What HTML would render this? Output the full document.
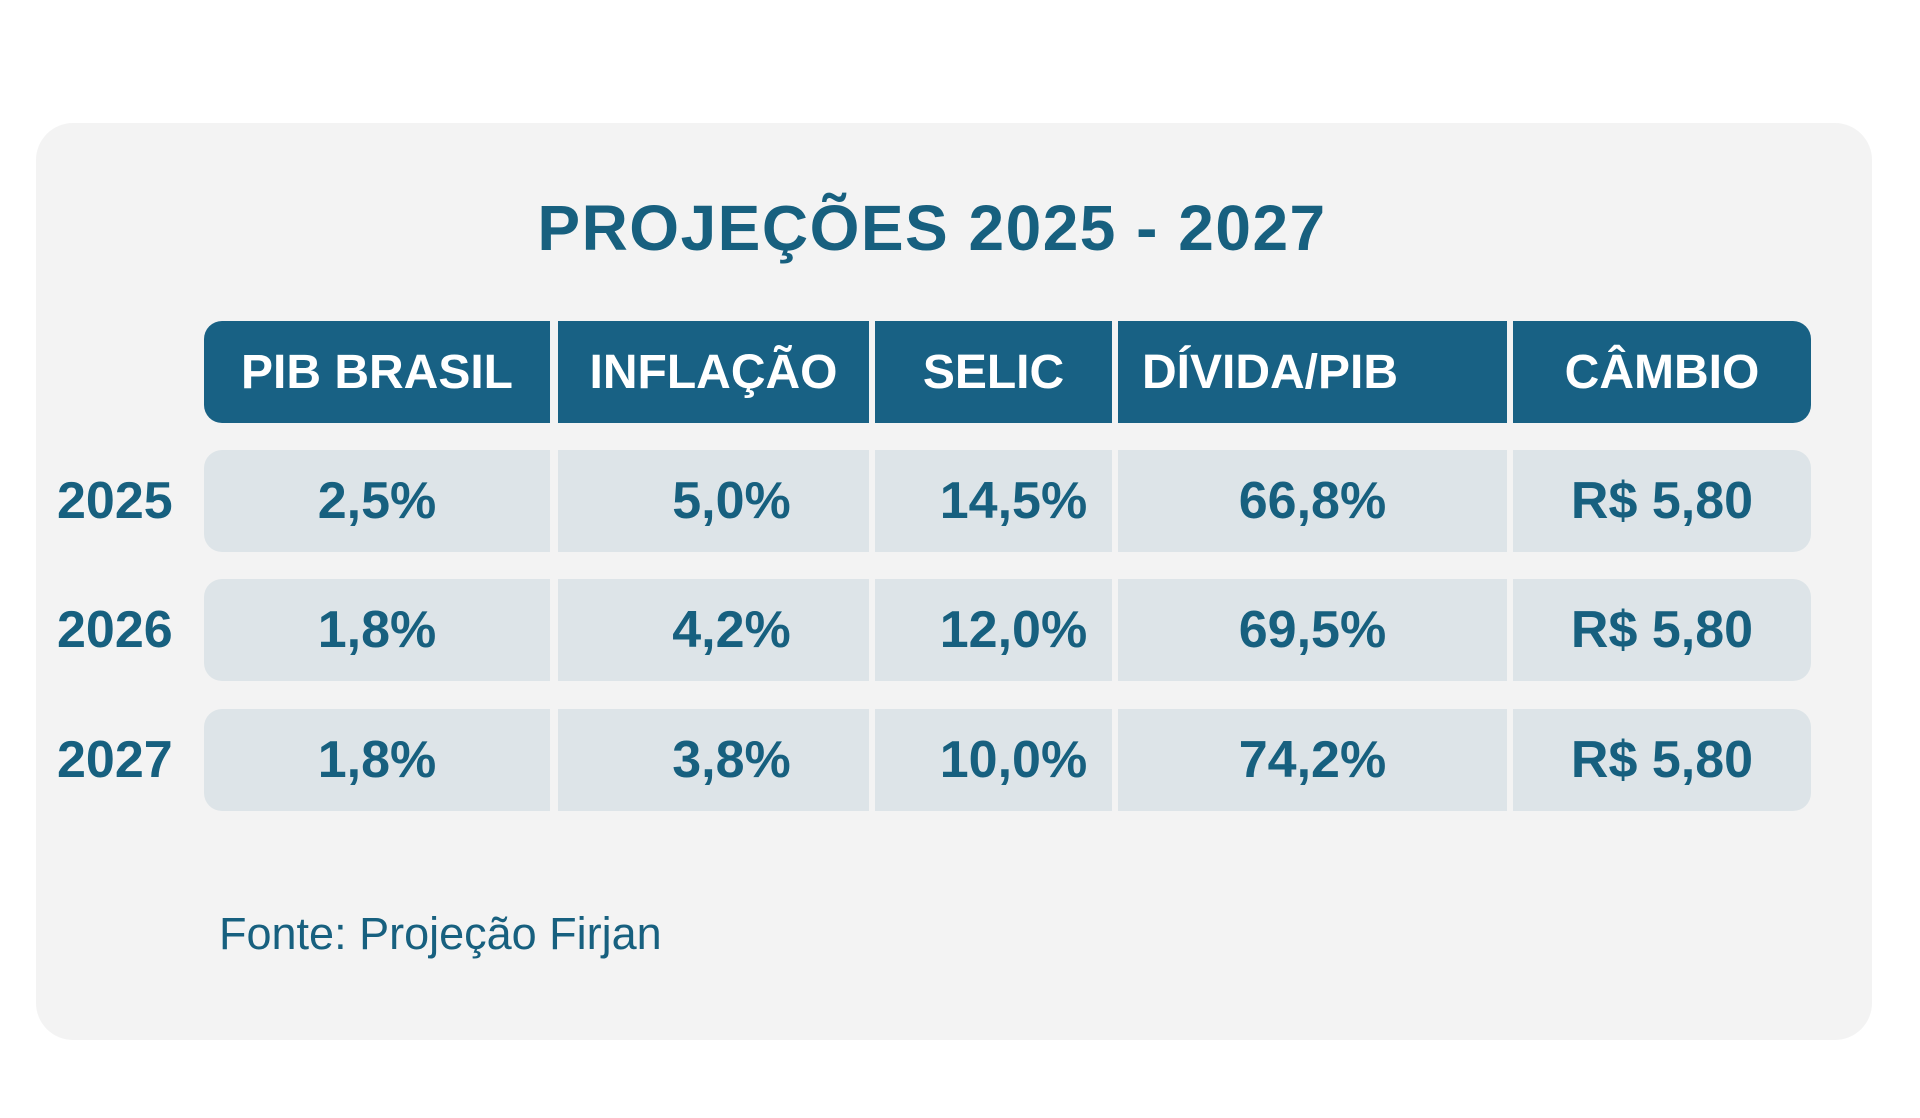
<!DOCTYPE html>
<html><head><meta charset="utf-8"><style>
body{margin:0;width:1920px;height:1118px;background:#fff;font-family:"Liberation Sans",sans-serif;color:#17607f;position:relative;overflow:hidden}
.panel{position:absolute;left:36px;top:123px;width:1836px;height:917px;background:#f3f3f3;border-radius:37px}
.t{position:absolute;white-space:nowrap}
.title{left:0;width:1864px;text-align:center;top:188px;font-size:64px;letter-spacing:1.5px;font-weight:bold;line-height:80px}
.c{position:absolute;display:flex;align-items:center;justify-content:center;font-weight:bold;box-sizing:border-box}
.h{background:#186184;color:#fff;font-size:48px;top:321px;height:102px}
.v{background:#dde4e8;font-size:52px;height:102px}
.y{position:absolute;left:57px;font-size:52px;font-weight:bold;line-height:102px}
</style></head><body>
<div class="panel"></div>
<div class="t title">PROJEÇÕES 2025 - 2027</div>

<div class="c h" style="left:204px;width:346px;border-radius:18px 0 0 18px">PIB BRASIL</div>
<div class="c h" style="left:558px;width:311px">INFLAÇÃO</div>
<div class="c h" style="left:875px;width:237px">SELIC</div>
<div class="c h" style="left:1118px;width:389px;justify-content:flex-start;padding-left:24px">DÍVIDA/PIB</div>
<div class="c h" style="left:1513px;width:298px;border-radius:0 18px 18px 0">CÂMBIO</div>

<div class="y" style="top:450px">2025</div>
<div class="c v" style="top:450px;left:204px;width:346px;border-radius:18px 0 0 18px">2,5%</div>
<div class="c v" style="top:450px;left:558px;width:311px;padding-left:36px">5,0%</div>
<div class="c v" style="top:450px;left:875px;width:237px;padding-left:40px">14,5%</div>
<div class="c v" style="top:450px;left:1118px;width:389px">66,8%</div>
<div class="c v" style="top:450px;left:1513px;width:298px;border-radius:0 18px 18px 0">R$ 5,80</div>

<div class="y" style="top:579px">2026</div>
<div class="c v" style="top:579px;left:204px;width:346px;border-radius:18px 0 0 18px">1,8%</div>
<div class="c v" style="top:579px;left:558px;width:311px;padding-left:36px">4,2%</div>
<div class="c v" style="top:579px;left:875px;width:237px;padding-left:40px">12,0%</div>
<div class="c v" style="top:579px;left:1118px;width:389px">69,5%</div>
<div class="c v" style="top:579px;left:1513px;width:298px;border-radius:0 18px 18px 0">R$ 5,80</div>

<div class="y" style="top:709px">2027</div>
<div class="c v" style="top:709px;left:204px;width:346px;border-radius:18px 0 0 18px">1,8%</div>
<div class="c v" style="top:709px;left:558px;width:311px;padding-left:36px">3,8%</div>
<div class="c v" style="top:709px;left:875px;width:237px;padding-left:40px">10,0%</div>
<div class="c v" style="top:709px;left:1118px;width:389px">74,2%</div>
<div class="c v" style="top:709px;left:1513px;width:298px;border-radius:0 18px 18px 0">R$ 5,80</div>

<div class="t" style="left:219px;top:908px;font-size:45px;line-height:52px">Fonte: Projeção Firjan</div>
</body></html>
